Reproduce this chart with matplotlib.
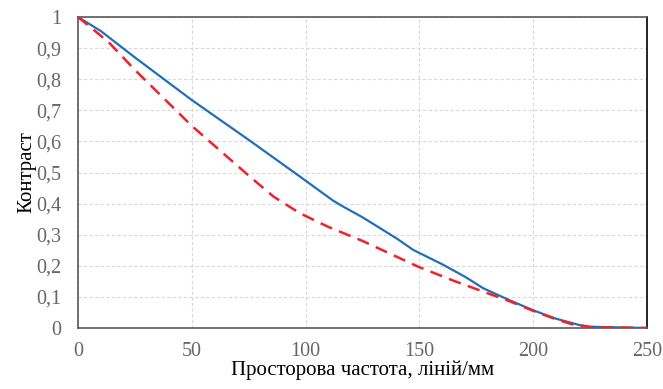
import matplotlib.pyplot as plt
from matplotlib.ticker import FuncFormatter

# frequency, lines/mm
freq_blue = [0, 10, 25, 50, 75, 97.5, 112, 116.6, 125, 140, 147.3, 160, 170, 178, 190, 200, 210, 220, 225, 250]
mtf_blue = [1.0, 0.955, 0.87, 0.733, 0.605, 0.487, 0.41, 0.39, 0.356, 0.288, 0.251, 0.205, 0.165, 0.128, 0.088, 0.057, 0.03, 0.01, 0.004, 0.0]

freq_red = [0, 10, 14, 25, 50, 75, 86, 97.5, 110, 125, 149.5, 165, 178, 190, 200, 210, 218, 225, 250]
mtf_red = [1.0, 0.94, 0.915, 0.83, 0.65, 0.49, 0.422, 0.369, 0.325, 0.28, 0.197, 0.152, 0.117, 0.085, 0.055, 0.028, 0.01, 0.003, 0.0]

xticks = [0, 50, 100, 150, 200, 250]
yticks = [0, 0.1, 0.2, 0.3, 0.4, 0.5, 0.6, 0.7, 0.8, 0.9, 1.0]

plt.rcParams['font.family'] = ['Liberation Serif', 'DejaVu Serif']

fig = plt.figure(figsize=(6.63, 3.89), dpi=100)
ax = fig.add_axes([0.1176, 0.1568, 0.8583, 0.7995])

ax.plot(freq_blue, mtf_blue, color='#1f6fbd', lw=1.6, zorder=3)
ax.plot(freq_red, mtf_red, color='#f2202a', lw=1.8, dashes=(5, 3), zorder=4)

ax.set_xlim(0, 250)
ax.set_ylim(0, 1)
ax.set_xticks(xticks)
ax.set_yticks(yticks)
ax.yaxis.set_major_formatter(FuncFormatter(lambda v, p: ('%g' % round(v, 2)).replace('.', ',')))
ax.tick_params(length=0, labelsize=14.5, labelcolor='#666666')
ax.tick_params(axis='x', pad=10)
ax.tick_params(axis='y', pad=12)

ax.grid(True, color='#d9d9d9', ls=(0, (3, 2)), lw=0.8)
ax.set_axisbelow(True)
for side in ['left', 'bottom', 'top']:
    ax.spines[side].set_color('#595959')
    ax.spines[side].set_linewidth(1.2)
ax.spines['right'].set_color('black')
ax.spines['right'].set_linewidth(1.2)

ax.set_xlabel('Просторова частота, ліній/мм', fontsize=15, labelpad=0)
ax.set_ylabel('Контраст', fontsize=15, labelpad=0)

fig.savefig('out.png', dpi=100)
